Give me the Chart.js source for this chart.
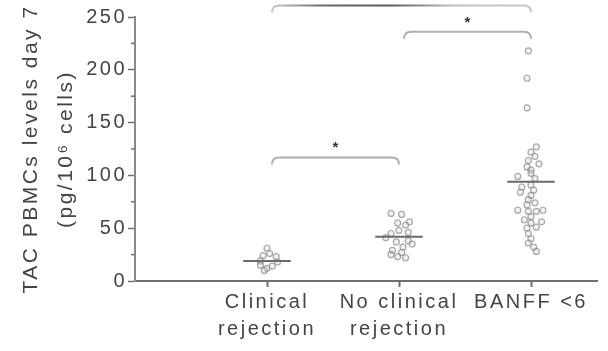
<!DOCTYPE html>
<html>
<head>
<meta charset="utf-8">
<script src="https://cdn.jsdelivr.net/npm/chart.js@4/dist/chart.umd.min.js"></script>
<style>
  html, body { margin: 0; padding: 0; background: #fff; }
</style>
</head>
<body>
<canvas id="chart" width="608" height="351"></canvas>
<script>
const categories = [["Clinical", "rejection"], ["No clinical", "rejection"], ["BANFF <6"]];
const yTitle = ["TAC PBMCs levels day 7", "(pg/10\u2076 cells)"];
const yTicks = [0, 50, 100, 150, 200, 250];
const yMinorTicks = [25, 75, 125, 175, 225];

// values, with the horizontal scatter offset of each dot
const clinicalValues = [31, 26, 24, 23, 19, 18, 15, 14, 12, 10];
const clinicalJitter = [0, 0.02, -0.03, 0.07, -0.05, 0.08, -0.05, 0.04, 0, -0.02];
const noClinicalValues = [64, 63, 55, 53, 56, 48, 46, 45, 41, 37, 38, 35, 32, 29, 27, 25, 23, 22];
const noClinicalJitter = [-0.06, 0.02, -0.01, 0.05, 0.08, 0, 0.07, -0.06, -0.1, -0.02, 0.07, 0.1, 0.03, -0.05, 0.02, -0.06, -0.01, 0.05];
const banffValues = [218, 192, 164, 127, 122, 118, 114, 111, 108, 105, 102, 99, 97, 91, 89, 86, 84, 81, 77, 74, 72, 67, 67, 66, 66, 61, 58, 56, 55, 51, 50, 45, 40, 36, 32, 28];
const banffJitter = [-0.02, -0.03, -0.03, 0.04, 0, 0.03, -0.02, 0.06, -0.03, 0, 0, -0.1, 0.03, 0, -0.07, 0.02, -0.08, 0, -0.02, 0.03, -0.03, -0.1, 0.09, -0.02, 0.04, 0, -0.05, 0.08, 0, 0.04, -0.03, -0.02, 0, -0.02, 0.02, 0.04];
const medians = [19, 42, 94];

// significance brackets: category pairs and the level they sit at
const bracketPairs = [[0, 1], [1, 2], [0, 2]];
const bracketLevels = [117, 236, 261];
const bracketLabels = ["*", "*", "*"];

const groups = [
  { values: clinicalValues, jitter: clinicalJitter },
  { values: noClinicalValues, jitter: noClinicalJitter },
  { values: banffValues, jitter: banffJitter },
];

const textColor = "#444";
const axisColor = "#6f6f6f";

const dotDatasets = groups.map((g, i) => ({
  type: "scatter",
  data: g.values.map((v, k) => ({ x: i + g.jitter[k], y: v })),
  pointStyle: "circle",
  pointRadius: 3,
  borderWidth: 1.2,
  borderColor: "rgba(135, 135, 135, 0.7)",
  backgroundColor: "rgba(200, 200, 200, 0.25)",
}));

const medianDatasets = medians.map((m, i) => ({
  type: "line",
  data: [{ x: i - 0.18, y: m }, { x: i + 0.18, y: m }],
  borderColor: "#6a6a6a",
  borderWidth: 2,
  pointRadius: 0,
}));

const spacingPlugin = {
  id: "spacing",
  beforeLayout(chart) { chart.ctx.letterSpacing = "2.5px"; },
  beforeDraw(chart) { chart.ctx.letterSpacing = "2.5px"; },
};

const extrasPlugin = {
  id: "extras",
  afterDraw(chart) {
    const { ctx, chartArea, scales } = chart;
    ctx.save();
    ctx.letterSpacing = "0px";

    // minor y ticks
    ctx.strokeStyle = axisColor;
    ctx.lineWidth = 1.5;
    yMinorTicks.forEach((v) => {
      const y = scales.y.getPixelForValue(v);
      ctx.beginPath();
      ctx.moveTo(chartArea.left - 4, y);
      ctx.lineTo(chartArea.left, y);
      ctx.stroke();
    });

    // brackets with stars
    bracketPairs.forEach(([a, b], i) => {
      const x1 = scales.x.getPixelForValue(a) + 5;
      const x2 = scales.x.getPixelForValue(b);
      const y = scales.y.getPixelForValue(bracketLevels[i]);
      const hook = 7;
      if (i === 2) {
        const grad = ctx.createLinearGradient(x1, 0, x2, 0);
        grad.addColorStop(0, "#c8c8c8");
        grad.addColorStop(0.2, "#6a6a6a");
        grad.addColorStop(0.45, "#5a5a5a");
        grad.addColorStop(0.7, "#c0c0c0");
        grad.addColorStop(1, "#c8c8c8");
        ctx.strokeStyle = grad;
      } else {
        ctx.strokeStyle = "#b0b0b0";
      }
      ctx.lineWidth = 2;
      ctx.beginPath();
      ctx.moveTo(x1, y + hook);
      ctx.quadraticCurveTo(x1, y, x1 + hook, y);
      ctx.lineTo(x2 - hook, y);
      ctx.quadraticCurveTo(x2, y, x2, y + hook);
      ctx.stroke();

      ctx.fillStyle = "#333";
      ctx.font = "bold 15px 'Liberation Sans', Arial, sans-serif";
      ctx.textAlign = "center";
      ctx.textBaseline = "alphabetic";
      ctx.fillText(bracketLabels[i], (x1 + x2) / 2, y - 5);
    });
    ctx.restore();
  },
};

new Chart(document.getElementById("chart"), {
  data: { datasets: [...medianDatasets, ...dotDatasets] },
  options: {
    responsive: false,
    animation: false,
    layout: { padding: { top: 17, right: 11, bottom: 0, left: 0 } },
    plugins: { legend: { display: false }, tooltip: { enabled: false } },
    scales: {
      x: {
        type: "linear",
        min: -1,
        max: 2.5,
        afterBuildTicks: (scale) => { scale.ticks = categories.map((c, i) => ({ value: i })); },
        afterFit: (scale) => { scale.height = 70; },
        ticks: {
          autoSkip: false,
          maxRotation: 0,
          padding: 2,
          color: textColor,
          font: { family: "'Liberation Sans', Arial, sans-serif", size: 20, lineHeight: 1.35 },
          callback: (v) => categories[v],
        },
        grid: { drawOnChartArea: false, tickLength: 6, color: axisColor, tickWidth: 2 },
        border: { color: axisColor, width: 2 },
      },
      y: {
        min: 0,
        max: 250,
        afterBuildTicks: (scale) => { scale.ticks = yTicks.map((v) => ({ value: v })); },
        afterFit: (scale) => { scale.width = 135; },
        ticks: {
          padding: 1,
          color: textColor,
          font: { family: "'Liberation Sans', Arial, sans-serif", size: 20 },
        },
        title: {
          display: true,
          text: yTitle,
          color: textColor,
          padding: { top: 14, bottom: 0 },
          font: { family: "'Liberation Sans', Arial, sans-serif", size: 21, lineHeight: 1.67 },
        },
        grid: { drawOnChartArea: false, tickLength: 7, color: axisColor, tickWidth: 1.5 },
        border: { color: "#8a8a8a", width: 2 },
      },
    },
  },
  plugins: [spacingPlugin, extrasPlugin],
});
</script>
</body>
</html>
